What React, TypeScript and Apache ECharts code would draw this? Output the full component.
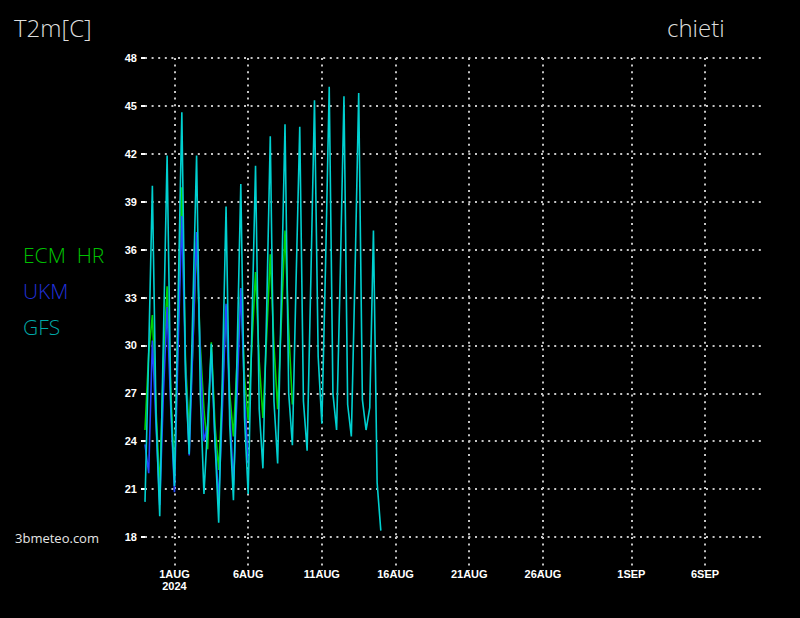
import React, { useEffect, useRef } from 'react';
import * as echarts from 'echarts';

// Forecast run start (30 Jul 2024 00Z) and time step of the series, in hours
const START_DATE = '2024-07-30';
const STEP_HOURS = 6;

// 2 m temperature (°C), every 6 h from 30 Jul 2024 00Z
const ecmHr = [
  24.7, 29.5, 31.9, 26.0,
  21.0, 29.0, 33.7, 27.0,
  21.8, 31.0, 39.9, 29.0,
  24.5, 30.0, 36.5, 30.0,
  26.0, 23.5, 30.2, 25.0,
  22.2, 27.0, 32.5, 27.0,
  24.3, 29.0, 33.6, 28.0,
  25.3, 30.0, 34.6, 29.0,
  25.45, 30.5, 35.7, 30.0,
  26.0, 31.5, 37.2, 31.0,
  26.3,
];

const ukm = [
  23.8, 22.0, 30.3, 25.0,
  20.0, 27.0, 32.4, 26.0,
  20.8, 30.0, 38.1, 28.5,
  23.1, 30.0, 37.1, 29.5,
  24.0, 25.0, 29.6, 24.0,
  20.3, 26.0, 32.6, 26.0,
  21.25, 27.0, 33.6, 27.0,
  22.6,
];

const gfs = [
  20.2, 29.5, 40.0, 25.5,
  19.3, 30.5, 41.9, 26.5,
  21.2, 33.0, 44.6, 28.0,
  23.2, 32.5, 41.9, 27.0,
  20.7, 25.0, 30.1, 24.0,
  18.9, 28.0, 38.7, 25.0,
  20.3, 29.5, 40.1, 25.5,
  20.7, 31.0, 41.25, 26.0,
  22.3, 32.0, 43.1, 26.5,
  22.6, 33.0, 43.85, 27.0,
  23.75, 34.0, 43.7, 26.5,
  23.4, 34.0, 45.35, 29.3,
  25.1, 35.0, 46.2, 27.0,
  24.7, 34.5, 45.6, 26.3,
  24.3, 34.5, 45.8, 26.6,
  24.7, 26.1, 37.2, 21.4,
  18.4,
];

const seriesNames = ['ECM HR', 'UKM', 'GFS'];
const lineColors = ['#00d400', '#2246ff', '#00d0d0'];
const legendColors = ['#00c000', '#2030d8', '#00a8a8'];

// x-axis ticks
const tickDates = ['2024-08-01', '2024-08-06', '2024-08-11', '2024-08-16', '2024-08-21', '2024-08-26', '2024-09-01', '2024-09-06'];
const tickLabels = ['1AUG\n2024', '6AUG', '11AUG', '16AUG', '21AUG', '26AUG', '1SEP', '6SEP'];

const X_END_DATE = '2024-09-10';
const Y_MIN = 18;
const Y_MAX = 48;
const Y_STEP = 3;

const TITLE = 'T2m[C]';
const PLACE = 'chieti';
const SOURCE = '3bmeteo.com';

const HOUR = 3600 * 1000;
const toUtc = (d: string) => Date.parse(d + 'T00:00:00Z');
// hours elapsed since the run start
const hoursSinceStart = (d: string) => (toUtc(d) - toUtc(START_DATE)) / HOUR;

function toPoints(vals: number[]) {
  return vals.map((v, i) => [i * STEP_HOURS, v]);
}

export default function App() {
  const ref = useRef<HTMLDivElement>(null);

  useEffect(() => {
    if (!ref.current) return;
    const chart = echarts.init(ref.current, undefined, { renderer: 'svg' });
    const tickValues = tickDates.map(hoursSinceStart);
    const dataSets = [ecmHr, ukm, gfs];
    const dotted = { color: '#c4c4c4', width: 2, type: [2, 4.6] as any };
    const headStyle = { color: '#dedede', fontSize: 24, fontWeight: 300, fontFamily: 'Open Sans' };

    chart.setOption({
      animation: false,
      backgroundColor: '#000000',
      title: [
        { text: TITLE, left: 14, top: 15, padding: 0, textStyle: headStyle },
        { text: PLACE, left: 667, top: 15, padding: 0, textStyle: headStyle },
      ],
      legend: {
        orient: 'vertical',
        left: 18,
        top: 244,
        itemGap: 14,
        itemWidth: 0,
        itemHeight: 0,
        icon: 'rect',
        selectedMode: false,
        padding: 0,
        formatter: (name: string) => name.replace(' ', '  '),
        textStyle: { fontSize: 21, fontWeight: 300, fontFamily: 'Open Sans', lineHeight: 22 },
        data: seriesNames.map((n, i) => ({ name: n, textStyle: { color: legendColors[i] } })),
      },
      graphic: [
        {
          type: 'text',
          left: 15,
          top: 531,
          style: { text: SOURCE, fill: '#e6e6e6', fontSize: 13, fontFamily: 'Open Sans' },
        },
      ],
      grid: { left: 145, right: 36, top: 58, bottom: 81 },
      xAxis: {
        type: 'value',
        min: 0,
        max: hoursSinceStart(X_END_DATE),
        axisLine: { show: false },
        axisTick: {
          show: true,
          customValues: tickValues,
          length: 34,
          inside: false,
          lineStyle: dotted,
        },
        splitLine: { show: true, lineStyle: dotted },
        axisLabel: {
          customValues: tickValues,
          margin: 31,
          color: '#ffffff',
          fontSize: 11,
          fontWeight: 'bold',
          fontFamily: 'Liberation Sans Narrow, Liberation Sans, Arial',
          lineHeight: 12,
          hideOverlap: false,
          formatter: (val: number) => {
            const idx = tickValues.findIndex((t) => Math.abs(t - val) < 0.5);
            return idx >= 0 ? tickLabels[idx] : '';
          },
        },
      },
      yAxis: {
        type: 'value',
        min: Y_MIN,
        max: Y_MAX,
        interval: Y_STEP,
        axisLine: { show: false },
        axisTick: { show: true, length: 4, lineStyle: { color: '#ffffff', width: 2 } },
        splitLine: { show: true, lineStyle: dotted },
        axisLabel: {
          color: '#ffffff',
          fontSize: 11,
          fontWeight: 'bold',
          fontFamily: 'Liberation Sans Narrow, Liberation Sans, Arial',
          margin: 8,
        },
      },
      series: dataSets.map((vals, i) => ({
        name: seriesNames[i],
        type: 'line',
        data: toPoints(vals),
        showSymbol: false,
        symbol: 'none',
        color: lineColors[i],
        lineStyle: { color: lineColors[i], width: 1.6 },
        z: 2 + i,
      })),
    });

    return () => chart.dispose();
  }, []);

  return (
    <div
      ref={ref}
      style={{ position: 'fixed', left: 0, top: 0, width: 800, height: 618, background: '#000' }}
    />
  );
}
